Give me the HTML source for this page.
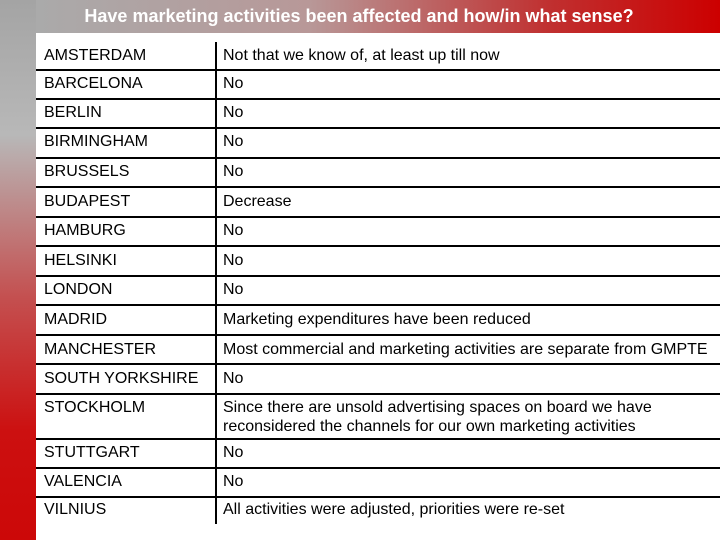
<!DOCTYPE html><html><head><style>
body{margin:0;width:720px;height:540px;position:relative;background:#fff;overflow:hidden;font-family:"Liberation Sans",Arial,sans-serif}
#strip{position:absolute;left:0;top:0;width:36px;height:540px;background:linear-gradient(#a4a4a4 0%,#b8b8b8 25%,#c45050 55%,#cc1010 80%,#cc0808 100%)}
#hdr{position:absolute;left:36px;top:0;width:684px;height:33px;background:linear-gradient(90deg,#aaaaaa 0%,#b89898 40%,#c03030 75%,#cc0000 100%);color:#fff;font-weight:bold;font-size:18px;text-align:center;line-height:33px;text-indent:-38px}
.l{position:absolute;left:36px;width:684px;height:2px;background:#000}
.v{position:absolute;left:215px;top:42px;width:2px;height:482px;background:#000}
.t{position:absolute;font-size:16px;color:#000;line-height:19px;white-space:nowrap}
</style></head><body>
<div id="strip"></div><div id="hdr">Have marketing activities been affected and how/in what sense?</div>
<div class="v"></div>
<div class="l" style="top:69px"></div><div class="l" style="top:98px"></div><div class="l" style="top:127px"></div><div class="l" style="top:157px"></div><div class="l" style="top:186px"></div><div class="l" style="top:216px"></div><div class="l" style="top:245px"></div><div class="l" style="top:275px"></div><div class="l" style="top:304px"></div><div class="l" style="top:334px"></div><div class="l" style="top:363px"></div><div class="l" style="top:393px"></div><div class="l" style="top:438px"></div><div class="l" style="top:467px"></div><div class="l" style="top:496px"></div>
<div class="t" style="left:44px;top:46px">AMSTERDAM</div><div class="t" style="left:223px;top:46px">Not that we know of, at least up till now</div>
<div class="t" style="left:44px;top:74px">BARCELONA</div><div class="t" style="left:223px;top:74px">No</div>
<div class="t" style="left:44px;top:103px">BERLIN</div><div class="t" style="left:223px;top:103px">No</div>
<div class="t" style="left:44px;top:132px">BIRMINGHAM</div><div class="t" style="left:223px;top:132px">No</div>
<div class="t" style="left:44px;top:162px">BRUSSELS</div><div class="t" style="left:223px;top:162px">No</div>
<div class="t" style="left:44px;top:192px">BUDAPEST</div><div class="t" style="left:223px;top:192px">Decrease</div>
<div class="t" style="left:44px;top:221px">HAMBURG</div><div class="t" style="left:223px;top:221px">No</div>
<div class="t" style="left:44px;top:251px">HELSINKI</div><div class="t" style="left:223px;top:251px">No</div>
<div class="t" style="left:44px;top:280px">LONDON</div><div class="t" style="left:223px;top:280px">No</div>
<div class="t" style="left:44px;top:310px">MADRID</div><div class="t" style="left:223px;top:310px">Marketing expenditures have been reduced</div>
<div class="t" style="left:44px;top:340px">MANCHESTER</div><div class="t" style="left:223px;top:340px">Most commercial and marketing activities are separate from GMPTE</div>
<div class="t" style="left:44px;top:369px">SOUTH YORKSHIRE</div><div class="t" style="left:223px;top:369px">No</div>
<div class="t" style="left:44px;top:398px">STOCKHOLM</div><div class="t" style="left:223px;top:398px">Since there are unsold advertising spaces on board we have<br>reconsidered the channels for our own marketing activities</div>
<div class="t" style="left:44px;top:443px">STUTTGART</div><div class="t" style="left:223px;top:443px">No</div>
<div class="t" style="left:44px;top:472px">VALENCIA</div><div class="t" style="left:223px;top:472px">No</div>
<div class="t" style="left:44px;top:500px">VILNIUS</div><div class="t" style="left:223px;top:500px">All activities were adjusted, priorities were re-set</div>
</body></html>
